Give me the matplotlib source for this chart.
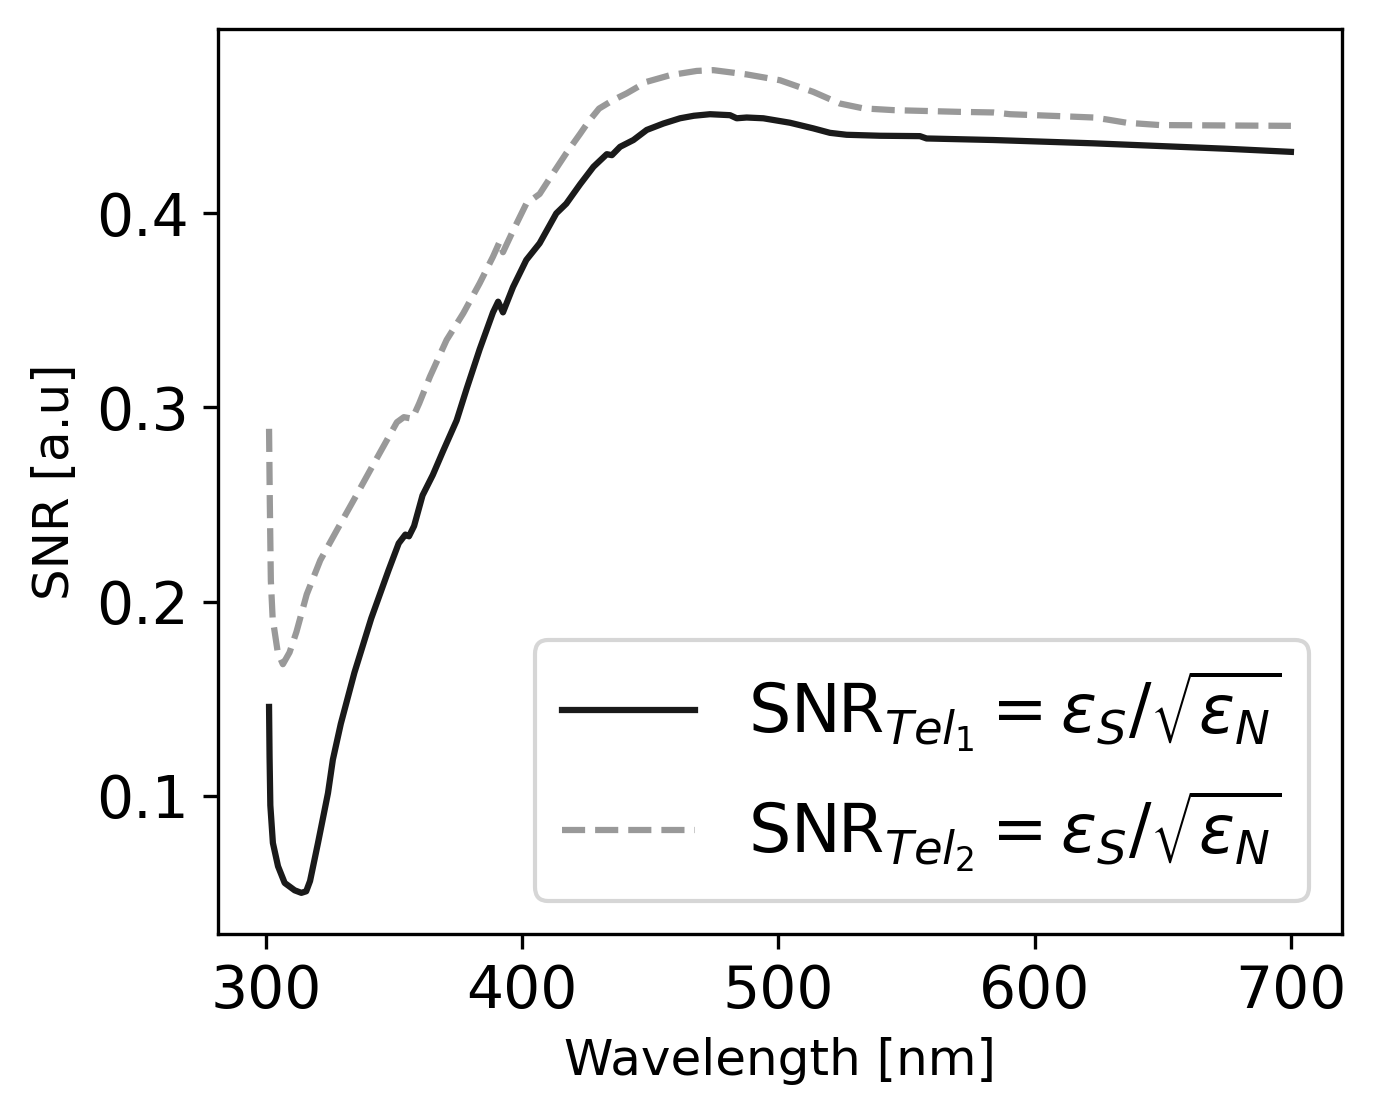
import matplotlib
matplotlib.use("Agg")
import matplotlib.pyplot as plt

# Tel 1 (solid line)
solid_wl = [301.2, 301.4, 301.7, 302.7, 304.7, 307.3, 311.2, 313.8, 315.7, 317.2,
            320.3, 324.2, 326.1, 329.2, 334.5, 341.1, 347.8, 351.8, 354.4, 355.8,
            357.8, 361.1, 365.1, 369.1, 374.4, 378.4, 383.4, 388.6, 390.6, 392.5,
            396.4, 401.6, 406.8, 413.3, 417.2, 422.6, 427.8, 433.0, 435.0, 438.2,
            443.4, 448.6, 455.1, 461.6, 467.0, 473.3, 481.1, 483.7, 487.6, 494.1,
            504.5, 513.6, 520.1, 526.6, 539.6, 555.2, 557.8, 583.9, 622.9, 648.9,
            674.9, 700.0]
solid_snr = [0.1457, 0.1200, 0.0950, 0.0756, 0.0636, 0.0550, 0.0512, 0.0499, 0.0507, 0.0560,
             0.0756, 0.1013, 0.1185, 0.1370, 0.1633, 0.1914, 0.2160, 0.2300, 0.2345, 0.2336,
             0.2389, 0.2547, 0.2652, 0.2775, 0.2933, 0.3100, 0.3300, 0.3490, 0.3545, 0.3490,
             0.3620, 0.3760, 0.3846, 0.4000, 0.4050, 0.4150, 0.4240, 0.4305, 0.4300, 0.4343,
             0.4378, 0.4430, 0.4463, 0.4490, 0.4503, 0.4511, 0.4506, 0.4490, 0.4494, 0.4490,
             0.4467, 0.4438, 0.4415, 0.4405, 0.4400, 0.4398, 0.4386, 0.4378, 0.4361, 0.4347,
             0.4333, 0.4317]

# Tel 2 (dashed line)
dash_wl = [301.2, 301.5, 301.9, 302.6, 304.6, 306.6, 309.2, 311.9, 315.9, 321.2,
           327.8, 334.5, 341.1, 347.8, 351.1, 353.8, 357.1, 359.8, 364.0, 370.5,
           377.0, 383.4, 388.6, 391.2, 392.5, 396.4, 401.6, 406.8, 412.0, 417.2,
           422.6, 426.0, 430.0, 435.5, 440.7, 448.6, 457.7, 468.1, 474.6, 487.6,
           500.6, 513.6, 524.0, 533.1, 544.9, 570.9, 583.9, 590.4, 609.9, 622.9,
           628.1, 635.9, 648.9, 700.0]
dash_snr = [0.2890, 0.2510, 0.2108, 0.1914, 0.1738, 0.1677, 0.1738, 0.1844, 0.2037, 0.2213,
            0.2371, 0.2529, 0.2687, 0.2846, 0.2924, 0.2950, 0.2942, 0.3021, 0.3159, 0.3348,
            0.3485, 0.3640, 0.3777, 0.3854, 0.3800, 0.3910, 0.4050, 0.4100, 0.4206, 0.4310,
            0.4410, 0.4475, 0.4540, 0.4584, 0.4618, 0.4678, 0.4712, 0.4734, 0.4738, 0.4716,
            0.4686, 0.4626, 0.4566, 0.4541, 0.4532, 0.4523, 0.4520, 0.4511, 0.4501, 0.4494,
            0.4484, 0.4467, 0.4455, 0.4451]

label_1 = r"$\mathrm{SNR}_{Tel_1} = \varepsilon_S/\sqrt{\varepsilon_N}$"
label_2 = r"$\mathrm{SNR}_{Tel_2} = \varepsilon_S/\sqrt{\varepsilon_N}$"

fig = plt.figure(figsize=(1376 / 300, 1116 / 300), dpi=300)
ax = fig.add_axes([0.1584, 0.1631, 0.8169, 0.8109])

ax.plot(solid_wl, solid_snr, color="#1a1a1a", linewidth=1.5, label=label_1)
ax.plot(dash_wl, dash_snr, color="#999999", linewidth=1.5, linestyle="--", label=label_2)

ax.set_xlabel("Wavelength [nm]", fontsize=12)
ax.set_ylabel("SNR [a.u]", fontsize=12)
ax.set_xticks([300, 400, 500, 600, 700])
ax.set_yticks([0.1, 0.2, 0.3, 0.4])
ax.tick_params(labelsize=14)
ax.legend(loc="lower right", fontsize=16)

fig.savefig("out.png", dpi=300)
